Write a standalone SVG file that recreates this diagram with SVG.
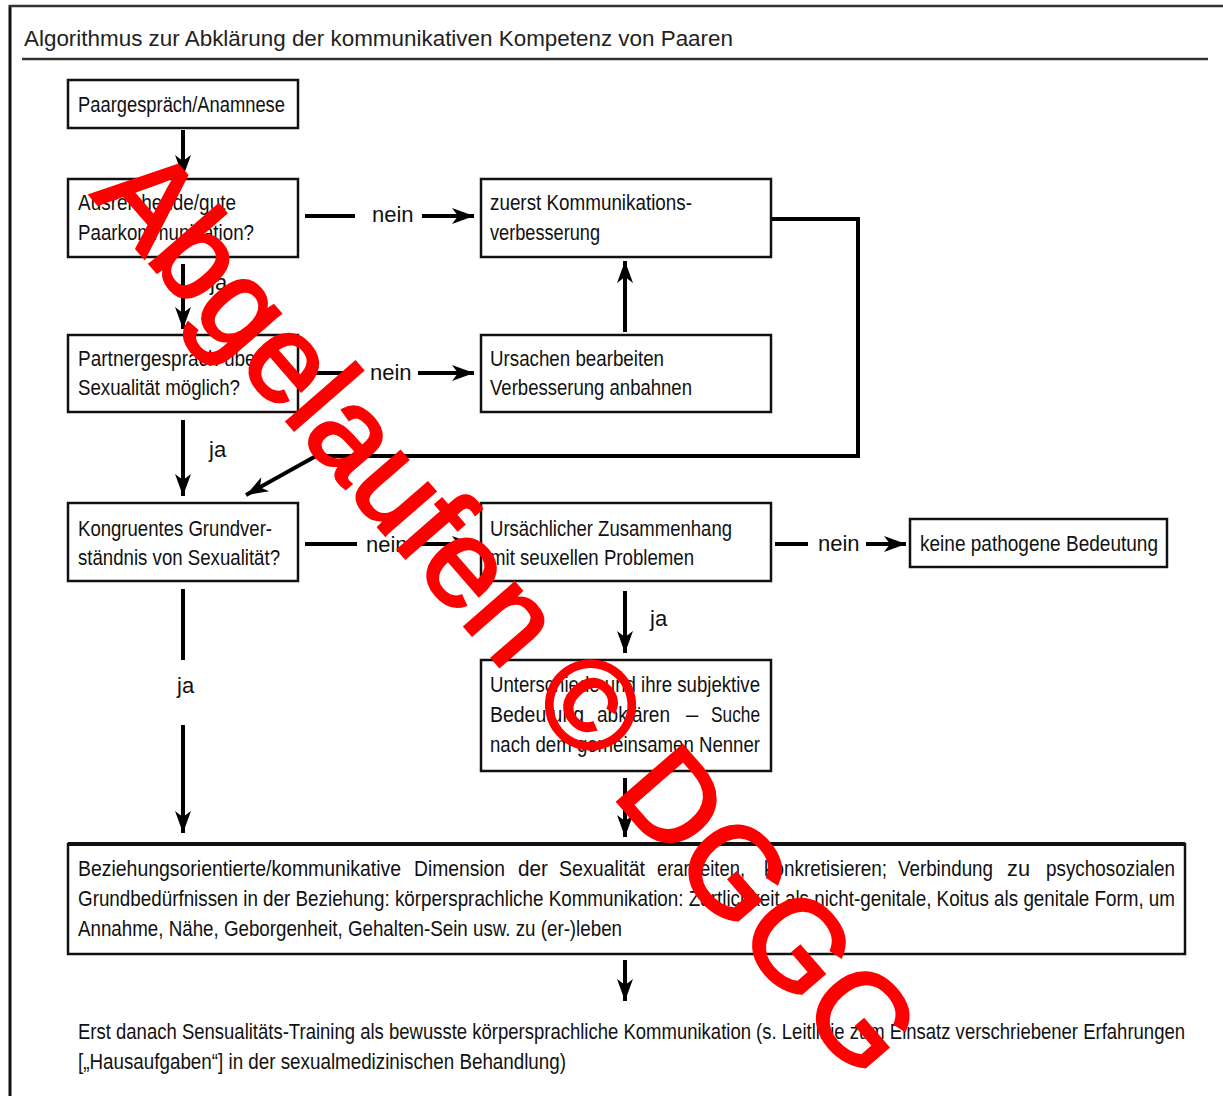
<svg xmlns="http://www.w3.org/2000/svg" width="1223" height="1096" viewBox="0 0 1223 1096">
<style>
.t{font-family:"Liberation Sans Narrow","Liberation Sans",Arial,sans-serif;font-size:22px;fill:#111}
.ti{font-family:"Liberation Sans","Noto Sans",Arial,sans-serif;font-size:22px;fill:#222}
.box{fill:#fff;stroke:#111;stroke-width:2.5}
.ln{stroke:#000;stroke-width:4;fill:none}
.wm{font-family:"Liberation Sans",Arial,sans-serif;font-size:125px;fill:#ff0000;stroke:#ff0000;stroke-width:3}
</style>
<defs>
<marker id="ah" markerUnits="userSpaceOnUse" markerWidth="24" markerHeight="18" refX="22" refY="9" orient="auto" overflow="visible">
<path d="M0,1 L22,9 L0,17 L6,9 z" fill="#000"/>
</marker>
</defs>
<rect width="1223" height="1096" fill="#fff"/>
<g id="frame">
<line x1="10" y1="5" x2="10" y2="1096" stroke="#111" stroke-width="3"/>
<line x1="9" y1="6" x2="1223" y2="6" stroke="#333" stroke-width="2.5"/>
<line x1="22" y1="59" x2="1208" y2="59" stroke="#333" stroke-width="2.5"/>
<text class="ti" x="24" y="46" textLength="709" lengthAdjust="spacingAndGlyphs">Algorithmus zur Abklärung der kommunikativen Kompetenz von Paaren</text>
</g>
<g id="connectors">
<line class="ln" x1="183" y1="130" x2="183" y2="177" marker-end="url(#ah)"/>
<line class="ln" x1="183" y1="264" x2="183" y2="329" marker-end="url(#ah)"/>
<line class="ln" x1="183" y1="420" x2="183" y2="496" marker-end="url(#ah)"/>
<line class="ln" x1="183" y1="589" x2="183" y2="660"/>
<line class="ln" x1="183" y1="725" x2="183" y2="833" marker-end="url(#ah)"/>
<line class="ln" x1="625" y1="332" x2="625" y2="261" marker-end="url(#ah)"/>
<line class="ln" x1="625" y1="591" x2="625" y2="653" marker-end="url(#ah)"/>
<line class="ln" x1="625" y1="778" x2="625" y2="837" marker-end="url(#ah)"/>
<line class="ln" x1="625" y1="960" x2="625" y2="1001" marker-end="url(#ah)"/>
<line class="ln" x1="305" y1="216" x2="355" y2="216"/>
<line class="ln" x1="422" y1="216" x2="474" y2="216" marker-end="url(#ah)"/>
<line class="ln" x1="305" y1="373" x2="357" y2="373"/>
<line class="ln" x1="418" y1="373" x2="474" y2="373" marker-end="url(#ah)"/>
<line class="ln" x1="305" y1="544" x2="357" y2="544"/>
<line class="ln" x1="418" y1="544" x2="474" y2="544" marker-end="url(#ah)"/>
<line class="ln" x1="775" y1="544" x2="808" y2="544"/>
<line class="ln" x1="866" y1="544" x2="906" y2="544" marker-end="url(#ah)"/>
<polyline class="ln" points="771,219 858,219 858,456 315,456"/>
<line class="ln" x1="316" y1="456" x2="246" y2="495" marker-end="url(#ah)"/>
<text class="t" x="372" y="222">nein</text>
<text class="t" x="370" y="380">nein</text>
<text class="t" x="366" y="552">nein</text>
<text class="t" x="818" y="551">nein</text>
<text class="t" x="210" y="290">ja</text>
<text class="t" x="209" y="457">ja</text>
<text class="t" x="177" y="693">ja</text>
<text class="t" x="650" y="626">ja</text>
</g>
<g id="n1">
<rect class="box" x="68" y="80" width="230" height="48"/>
<text class="t" x="78" y="112" textLength="207" lengthAdjust="spacingAndGlyphs">Paargespräch/Anamnese</text>
</g>
<g id="n2">
<rect class="box" x="68" y="179" width="230" height="78"/>
<text class="t" x="78" y="210" textLength="158" lengthAdjust="spacingAndGlyphs">Ausreichende/gute</text>
<text class="t" x="78" y="240" textLength="176" lengthAdjust="spacingAndGlyphs">Paarkommunikation?</text>
</g>
<g id="n3">
<rect class="box" x="481" y="179" width="290" height="78"/>
<text class="t" x="490" y="210" textLength="202" lengthAdjust="spacingAndGlyphs">zuerst Kommunikations-</text>
<text class="t" x="490" y="240" textLength="110" lengthAdjust="spacingAndGlyphs">verbesserung</text>
</g>
<g id="n4">
<rect class="box" x="68" y="335" width="230" height="77"/>
<text class="t" x="78" y="366" textLength="184" lengthAdjust="spacingAndGlyphs">Partnergespräch über</text>
<text class="t" x="78" y="395" textLength="162" lengthAdjust="spacingAndGlyphs">Sexualität möglich?</text>
</g>
<g id="n5">
<rect class="box" x="481" y="335" width="290" height="77"/>
<text class="t" x="490" y="366" textLength="174" lengthAdjust="spacingAndGlyphs">Ursachen bearbeiten</text>
<text class="t" x="490" y="395" textLength="202" lengthAdjust="spacingAndGlyphs">Verbesserung anbahnen</text>
</g>
<g id="n6">
<rect class="box" x="68" y="503" width="230" height="78"/>
<text class="t" x="78" y="536" textLength="194" lengthAdjust="spacingAndGlyphs">Kongruentes Grundver-</text>
<text class="t" x="78" y="565" textLength="202" lengthAdjust="spacingAndGlyphs">ständnis von Sexualität?</text>
</g>
<g id="n7">
<rect class="box" x="481" y="503" width="290" height="78"/>
<text class="t" x="490" y="536" textLength="242" lengthAdjust="spacingAndGlyphs">Ursächlicher Zusammenhang</text>
<text class="t" x="490" y="565" textLength="204" lengthAdjust="spacingAndGlyphs">mit seuxellen Problemen</text>
</g>
<g id="n8">
<rect class="box" x="910" y="519" width="257" height="48"/>
<text class="t" x="920" y="551" textLength="238" lengthAdjust="spacingAndGlyphs">keine pathogene Bedeutung</text>
</g>
<g id="n9">
<rect class="box" x="481" y="660" width="290" height="111"/>
<text class="t" x="490" y="692" textLength="270" lengthAdjust="spacingAndGlyphs">Unterschiede und ihre subjektive</text>
<text class="t" y="722"><tspan x="490" textLength="94" lengthAdjust="spacingAndGlyphs">Bedeutung</tspan><tspan x="597" textLength="73" lengthAdjust="spacingAndGlyphs">abklären</tspan><tspan x="686">–</tspan><tspan x="711" textLength="49" lengthAdjust="spacingAndGlyphs">Suche</tspan></text>
<text class="t" x="490" y="752" textLength="270" lengthAdjust="spacingAndGlyphs">nach dem gemeinsamen Nenner</text>
</g>
<g id="n10">
<rect class="box" x="68" y="844" width="1117" height="110"/>
<line x1="68" y1="844" x2="1185" y2="844" stroke="#111" stroke-width="4"/>
<text class="t" y="876"><tspan x="78" textLength="323" lengthAdjust="spacingAndGlyphs">Beziehungsorientierte/kommunikative</tspan><tspan x="414" textLength="91" lengthAdjust="spacingAndGlyphs">Dimension</tspan><tspan x="518" textLength="30" lengthAdjust="spacingAndGlyphs">der</tspan><tspan x="559" textLength="86" lengthAdjust="spacingAndGlyphs">Sexualität</tspan><tspan x="657" textLength="88" lengthAdjust="spacingAndGlyphs">erarbeiten,</tspan><tspan x="764" textLength="123" lengthAdjust="spacingAndGlyphs">konkretisieren;</tspan><tspan x="898" textLength="95" lengthAdjust="spacingAndGlyphs">Verbindung</tspan><tspan x="1007" textLength="23" lengthAdjust="spacingAndGlyphs">zu</tspan><tspan x="1046" textLength="129" lengthAdjust="spacingAndGlyphs">psychosozialen</tspan></text>
<text class="t" x="78" y="906" textLength="1097" lengthAdjust="spacingAndGlyphs">Grundbedürfnissen in der Beziehung: körpersprachliche Kommunikation: Zärtlichkeit als nicht-genitale, Koitus als genitale Form, um</text>
<text class="t" x="78" y="936" textLength="544" lengthAdjust="spacingAndGlyphs">Annahme, Nähe, Geborgenheit, Gehalten-Sein usw. zu (er-)leben</text>
</g>
<g id="n11">
<text class="t" x="78" y="1039" textLength="1107" lengthAdjust="spacingAndGlyphs">Erst danach Sensualitäts-Training als bewusste körpersprachliche Kommunikation (s. Leitlinie zum Einsatz verschriebener Erfahrungen</text>
<text class="t" x="78" y="1069" textLength="488" lengthAdjust="spacingAndGlyphs">[„Hausaufgaben“] in der sexualmedizinischen Behandlung)</text>
</g>
<g id="watermark">
<text class="wm" transform="translate(90,195) rotate(49)">Abgelaufen © DGGG</text>
</g>
</svg>
